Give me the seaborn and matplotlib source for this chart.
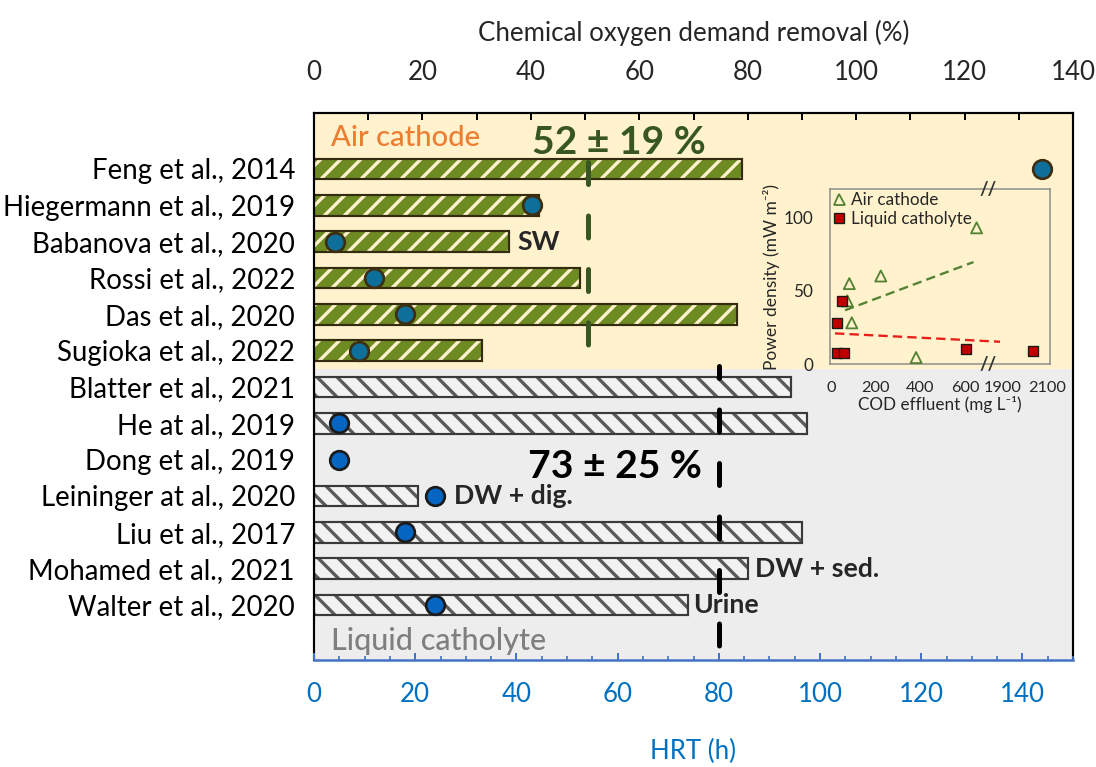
import numpy as np
import pandas as pd
import matplotlib
matplotlib.use("Agg")
import matplotlib.pyplot as plt
import matplotlib.transforms as mtransforms
from matplotlib.ticker import MultipleLocator, FixedLocator
from matplotlib.lines import Line2D
import seaborn as sns

# ---------------- data ----------------
studies = ["Feng et al., 2014", "Hiegermann et al., 2019", "Babanova et al., 2020",
           "Rossi et al., 2022", "Das et al., 2020", "Sugioka et al., 2022",
           "Blatter et al., 2021", "He at al., 2019", "Dong et al., 2019",
           "Leininger at al., 2020", "Liu et al., 2017", "Mohamed et al., 2021",
           "Walter et al., 2020"]
cathode = ["Air"] * 6 + ["Liquid"] * 7
cod_removal = [79, 41.5, 36, 49, 78, 31, 88, 91, np.nan, 19.2, 90, 80, 69]   # %
hrt_h = [143.8, 43, 4.2, 11.8, 18, 8.9, np.nan, 5, 5, 24, 18, np.nan, 24]    # h

note_study = ["Babanova et al., 2020", "Leininger at al., 2020", "Mohamed et al., 2021", "Walter et al., 2020"]
note_text = ["SW", "DW + dig.", "DW + sed.", "Urine"]
note_anchor = ["bar", "dot", "bar", "bar"]

mean_air = 50.5
mean_air_label = "52 ± 19 %"
mean_liq = 74.7
mean_liq_label = "73 ± 25 %"

# inset: COD effluent (mg/L) vs power density (mW/m2)
air_cod_eff = [82, 73, 93, 223, 652, 381]
air_power = [54.9, 43.1, 28.1, 60.1, 93.0, 4.4]
liq_cod_eff = [26, 49, 28, 58, 605, 2035]
liq_power = [28.1, 43.1, 7.7, 7.3, 10.2, 8.8]
air_trend_x = [63, 638]
air_trend_y = [36.7, 69.6]
liq_trend_x = [18, 1887]
liq_trend_y = [20.9, 15.2]
inset_xticks = [0, 200, 400, 600, 1900, 2100]
GAP_LO, GAP_HI = 703, 1833

# ---------------- style ----------------
sns.set_theme(style="white")
plt.rcParams["font.family"] = ["Lato", "DejaVu Sans"]
plt.rcParams["hatch.linewidth"] = 2.0

ORANGE_BG = "#FFF2CC"
GREY_BG = "#EDEDED"
OLIVE = "#6E8B23"
CREAM = "#FFF2CC"
AIR_EDGE = "#332C10"
LIQ_FACE = "#F2F2F2"
LIQ_HATCH = "#5A5A5A"
LIQ_EDGE = "#3A3A3A"
DOT_AIR = "#0E6F9A"
DOT_AIR_EDGE = "#3D2E12"
DOT_LIQ = "#0565C0"
DOT_LIQ_EDGE = "#1A1A1A"
DKGREEN = "#375623"
BLUE_TXT = "#0070C0"
BLUE_AX = "#4472C4"

W, H, DPI = 1096, 767, 120
fig = plt.figure(figsize=(W / DPI, H / DPI), dpi=DPI)


def px_box(l, t, r, b):
    return [l / W, 1 - b / H, (r - l) / W, (b - t) / H]


ax = fig.add_axes(px_box(314, 113, 1073, 660))
ax2 = ax.twiny()

df = pd.DataFrame({"study": studies, "cathode": cathode, "cod": cod_removal,
                   "hrt": hrt_h, "pos": np.arange(len(studies))})

# backgrounds
ax.axhspan(-2, 5.5, color=ORANGE_BG, lw=0, zorder=0)
ax.axhspan(5.5, 14, color=GREY_BG, lw=0, zorder=0)

# hatched bars
nc = len(ax.containers)
sns.barplot(data=df, x="cod", y="study", hue="cathode", order=studies,
            hue_order=["Air", "Liquid"], palette=[OLIVE, LIQ_FACE], dodge=False,
            orient="h", width=0.57, errorbar=None, legend=False, saturation=1,
            linewidth=0, ax=ax)
for cont, hatch, hcol in zip(ax.containers[nc:], ["//", "\\\\"], [CREAM, LIQ_HATCH]):
    for p in cont:
        p.set_hatch(hatch)
        p.set_edgecolor(hcol)
        p.set_linewidth(0)
# outlines
sns.barplot(data=df, x="cod", y="study", hue="cathode", order=studies,
            hue_order=["Air", "Liquid"], palette=[AIR_EDGE, LIQ_EDGE], dodge=False,
            orient="h", width=0.57, errorbar=None, legend=False, saturation=1,
            fill=False, linewidth=1.3, ax=ax)

# mean lines
ax.plot([mean_air, mean_air], [-0.179, 4.86], color=DKGREEN, lw=3,
        linestyle=(0, (4.4, 6.3)), dash_capstyle="round", zorder=4)
ax.plot([mean_liq, mean_liq], [5.41, 13.17], color="black", lw=3,
        linestyle=(2, (4.4, 6.3)), dash_capstyle="round", zorder=4)

blend = mtransforms.blended_transform_factory(ax.transAxes, ax.transData)
ax.text(0.023, -0.85, "Air cathode", color="#ED7D31", fontsize=17.5, fontweight="medium",
        transform=blend, va="center", ha="left", zorder=5)
ax.text(0.023, 12.98, "Liquid catholyte", color="#7F7F7F", fontsize=18.3, fontweight="medium",
        transform=blend, va="center", ha="left", zorder=5)
ax.text(56.3, -0.73, mean_air_label, color=DKGREEN, fontsize=23.5, fontweight="bold",
        va="center", ha="center", zorder=5)
ax.text(55.6, 8.2, mean_liq_label, color="black", fontsize=23.5, fontweight="bold",
        va="center", ha="center", zorder=5)

# top axis (COD removal)
ax.set_xlim(0, 140)
ax.xaxis.tick_top()
ax.xaxis.set_label_position("top")
ax.xaxis.set_major_locator(MultipleLocator(20))
ax.xaxis.set_minor_locator(MultipleLocator(10))
ax.tick_params(axis="x", which="both", direction="in", length=4, width=1.2,
               color="black", top=True, bottom=False, labeltop=True, labelbottom=False,
               labelsize=15.5, pad=16.5)
ax.set_xlabel("Chemical oxygen demand removal (%)", fontsize=15.5, labelpad=12)
ax.set_ylabel("")
ax.tick_params(axis="y", length=0, pad=11.4, labelsize=16.6, labelcolor="black")
for s in ["top", "left", "right"]:
    ax.spines[s].set_color("black")
    ax.spines[s].set_linewidth(1.3)
ax.spines["bottom"].set_visible(False)

# dots (HRT) on bottom axis
air_dots = df[(df.cathode == "Air") & df.hrt.notna()]
liq_dots = df[(df.cathode == "Liquid") & df.hrt.notna()]
sns.scatterplot(data=air_dots, x="hrt", y="pos", color=DOT_AIR, edgecolor=DOT_AIR_EDGE,
                s=125, linewidth=1.6, legend=False, ax=ax2, zorder=6)
sns.scatterplot(data=liq_dots, x="hrt", y="pos", color=DOT_LIQ, edgecolor=DOT_LIQ_EDGE,
                s=125, linewidth=1.6, legend=False, ax=ax2, zorder=6)

# notes
for st, tx, anc in zip(note_study, note_text, note_anchor):
    i = studies.index(st)
    if anc == "bar":
        off = {"SW": 8, "DW + sed.": 7, "Urine": 5}[tx] / DPI * 72
        ax.annotate(tx, xy=(cod_removal[i], i), xytext=(off, 0), textcoords="offset points",
                    fontsize=16, fontweight="bold", va="center", ha="left", zorder=5)
    else:
        off = 19 / DPI * 72
        ax2.annotate(tx, xy=(hrt_h[i], i), xytext=(off, 0), textcoords="offset points",
                     fontsize=16, fontweight="bold", va="center", ha="left", zorder=7)

ax2.set_xlim(0, 150)
ax2.xaxis.set_ticks_position("bottom")
ax2.xaxis.set_label_position("bottom")
ax2.xaxis.set_major_locator(MultipleLocator(20))
ax2.xaxis.set_minor_locator(MultipleLocator(5))
ax2.tick_params(axis="x", which="major", direction="in", length=4.2, width=1.2,
                color=BLUE_AX, labelcolor=BLUE_TXT, labelsize=15.5, pad=13.5,
                bottom=True, top=False, labelbottom=True, labeltop=False)
ax2.tick_params(axis="x", which="minor", direction="in", length=2.7, width=1.0,
                color=BLUE_AX, bottom=True, top=False)
ax2.set_xlabel("HRT (h)", fontsize=15.5, color=BLUE_TXT, labelpad=19)
for s in ["top", "left", "right"]:
    ax2.spines[s].set_visible(False)
ax2.spines["bottom"].set_color(BLUE_AX)
ax2.spines["bottom"].set_linewidth(1.5)

ax.set_ylim(13.515, -1.541)

# ---------------- inset ----------------
axi = fig.add_axes(px_box(830, 189, 1050, 364))
axi.set_facecolor(ORANGE_BG)


def _fwd(x):
    x = np.asarray(x, float)
    return np.where(x > GAP_LO, np.maximum(x - (GAP_HI - GAP_LO), GAP_LO), x)


def _inv(t):
    t = np.asarray(t, float)
    return np.where(t > GAP_LO, t + (GAP_HI - GAP_LO), t)


axi.set_xscale("function", functions=(_fwd, _inv))

sns.lineplot(x=air_trend_x, y=air_trend_y, color="#548235", lw=1.4,
             linestyle=(0, (4, 2.2)), ax=axi, zorder=2)
sns.lineplot(x=liq_trend_x, y=liq_trend_y, color="#E8201C", lw=1.4,
             linestyle=(0, (4, 2.2)), ax=axi, zorder=2)
sns.scatterplot(x=air_cod_eff, y=air_power, marker="^", s=44, color="#548235",
                facecolor="none", edgecolor="#548235", linewidth=1.1, ax=axi, zorder=3)
sns.scatterplot(x=liq_cod_eff, y=liq_power, marker="s", s=40, color="#C00000",
                edgecolor="#1A1A1A", linewidth=0.8, ax=axi, zorder=4)

axi.set_xlim(float(_inv(-4.5)), float(_inv(980.7)))
axi.set_ylim(0, 119.5)
axi.set_xticks(inset_xticks)
axi.set_xticklabels([str(v) for v in inset_xticks])
minor_t = 28 + 33.7 * np.arange(29)
axi.xaxis.set_minor_locator(FixedLocator(_inv(minor_t)))
axi.yaxis.set_major_locator(MultipleLocator(50))
axi.yaxis.set_minor_locator(MultipleLocator(10))
axi.tick_params(axis="both", which="both", direction="in", color="#595959",
                width=0.8, labelcolor="#262626")
axi.tick_params(axis="x", which="both", length=2.4, pad=10, labelsize=9.8)
axi.tick_params(axis="y", which="major", length=3, pad=10, labelsize=10.3)
axi.tick_params(axis="y", which="minor", length=2.2)
axi.set_xlabel("COD effluent (mg L\u207b\u00b9)", fontsize=10.3, labelpad=0.5, color="#262626")
axi.set_ylabel("Power density (mW m\u207b\u00b2)", fontsize=10.4, labelpad=2.0, color="#262626")
for s in axi.spines.values():
    s.set_color("#8C8C8C")
    s.set_linewidth(0.9)

bl = mtransforms.blended_transform_factory(axi.transData, axi.transAxes)
for yy in (1.0, 0.0):
    axi.text(GAP_LO, yy, "//", transform=bl, fontsize=11, fontweight="bold",
             color="#333333", ha="center", va="center", zorder=6)

handles = [Line2D([], [], marker="^", ls="", markersize=6.6, markerfacecolor="none",
                  markeredgecolor="#548235", markeredgewidth=1.1),
           Line2D([], [], marker="s", ls="", markersize=6.3, markerfacecolor="#C00000",
                  markeredgecolor="#1A1A1A", markeredgewidth=0.8)]
axi.legend(handles, ["Air cathode", "Liquid catholyte"], loc="upper left",
           bbox_to_anchor=(0.0, 0.985), frameon=False, fontsize=10.3, borderpad=0,
           borderaxespad=0, handlelength=1.0, handletextpad=0.2, labelspacing=0.2)

fig.savefig("out.png", dpi=DPI)
